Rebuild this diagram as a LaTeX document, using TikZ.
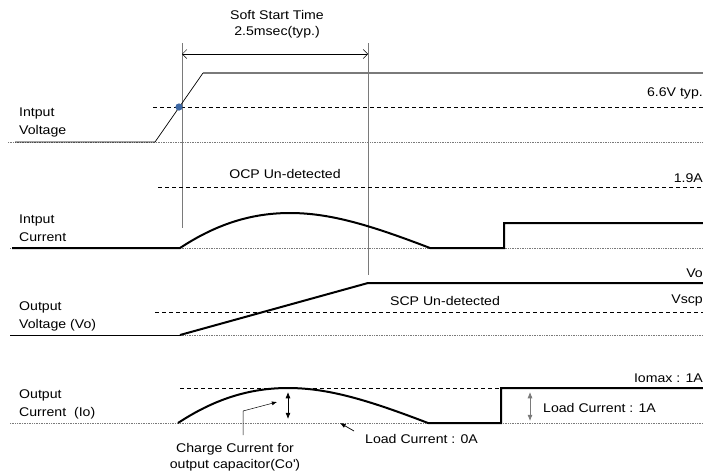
\documentclass[tikz,border=0pt]{standalone}
\usepackage{fontspec}
\setmainfont{Liberation Sans}[FakeStretch=1.12]
\usepackage{xcolor}
\usepackage{tikz}
\usetikzlibrary{arrows.meta}
\definecolor{dotblue}{HTML}{3B66A3}
\definecolor{guide}{HTML}{7A7A7A}

\begin{document}
\begin{tikzpicture}[x=1pt,y=-1pt,font=\fontsize{12.6}{18}\selectfont,
  base/.style={densely dotted,guide,line width=0.7pt},
  level/.style={line width=0.6pt,dash pattern=on 4pt off 3pt},
  wave/.style={line width=2pt,line join=miter},
  sig/.style={anchor=west,inner sep=0pt,align=left},
  val/.style={anchor=east,inner sep=0pt},
  note/.style={inner sep=0pt,align=center,font=\fontsize{12.6}{16}\selectfont}]
\useasboundingbox (0,0) rectangle (703,472);
% signal names
\node[sig] (vinlbl) at (19,122) {Intput\\Voltage};
\node[sig] (iinlbl) at (19,228) {Intput\\Current};
\node[sig] (volbl) at (19,316) {Output\\Voltage (Vo)};
\node[sig] (iolbl) at (19,404) {Output\\Current\ \ (Io)};
% levels on the right
\node[val] (vtyp) at (703,93) {6.6V typ.};
\node[val] (ocp) at (703,178) {1.9A};
\node[val] (vo) at (703,273) {Vo};
\node[val] (vscp) at (703,300) {Vscp};
\node[val] (iomax) at (703,378) {Iomax : 1A};
% soft start window
\coordinate (t0top) at (182,43); \coordinate (t0bot) at (182,228);
\coordinate (t1top) at (368,43); \coordinate (t1bot) at (368,275);
\draw[guide,line width=0.6pt] (t0top)--(t0bot);
\draw[guide,line width=0.6pt] (t1top)--(t1bot);
\coordinate (ssL) at (182,54); \coordinate (ssR) at (368,54);
\draw[{Straight Barb[length=1.6mm]}-{Straight Barb[length=1.6mm]},line width=0.5pt] (ssL)--(ssR);
\node[note] (sstime) at (277,24) {Soft Start Time\\2.5msec(typ.)};
% input voltage
\draw[base] (8,142)--(703,142);
\draw[level] (153,107)--(703,107);
\draw[line width=0.7pt] (15,142)--(155,142)--(203,73);
\draw[guide,line width=1.6pt] (203,73)--(703,73);
\fill[dotblue] (179,107) circle (3.6pt);
% input current
\node[note] (ocpund) at (285,174) {OCP Un-detected};
\draw[level] (158,187)--(703,187);
\draw[base] (10,248)--(703,248);
\draw[wave] (12,248)--(180,248) .. controls (215,225) and (250,213) .. (290,213)
  .. controls (330,213) and (370,225) .. (430,248) -- (504,248) -- (504,223) -- (703,223);
% output voltage
\node[note] (scpund) at (445,301) {SCP Un-detected};
\draw[level] (155,312)--(703,312);
\draw[base] (180,335)--(703,335);
\draw[line width=0.7pt] (10,335)--(180,335);
\draw[wave] (180,335)--(368,283)--(703,283);
% output current
\draw[level] (180,388)--(501,388);
\draw[base] (10,423)--(703,423);
\draw[wave] (178,423) .. controls (213,400) and (248,388) .. (288,388)
  .. controls (328,388) and (368,400) .. (428,423) -- (501,423) -- (501,388) -- (703,388);
\coordinate (pkTop) at (288,392); \coordinate (pkBot) at (288,419);
\draw[{Latex[length=2.2mm,width=1.8mm]}-{Latex[length=2.2mm,width=1.8mm]},line width=0.8pt] (pkTop)--(pkBot);
\coordinate (ldTop) at (530,392); \coordinate (ldBot) at (530,421);
\draw[{Latex[length=2.2mm,width=1.8mm]}-{Latex[length=2.2mm,width=1.8mm]},guide,line width=0.8pt] (ldTop)--(ldBot);
\node[sig] (load1) at (543,408) {Load Current : 1A};
\node[note] (charge) at (235,457) {Charge Current for\\output capacitor(Co\textquotesingle)};
\coordinate (chgFoot) at (243,435); \coordinate (chgBend) at (243,411); \coordinate (chgTip) at (277,402);
\draw[-{Latex[length=1.8mm,width=1.4mm]},line width=0.5pt] (chgFoot)--(chgBend)--(chgTip);
\node[sig] (load0) at (365,439) {Load Current : 0A};
\coordinate (ld0Foot) at (354,431); \coordinate (ld0Tip) at (340,423);
\draw[-{Latex[length=2mm,width=1.6mm]},line width=0.7pt] (ld0Foot)--(ld0Tip);
\end{tikzpicture}
\end{document}
